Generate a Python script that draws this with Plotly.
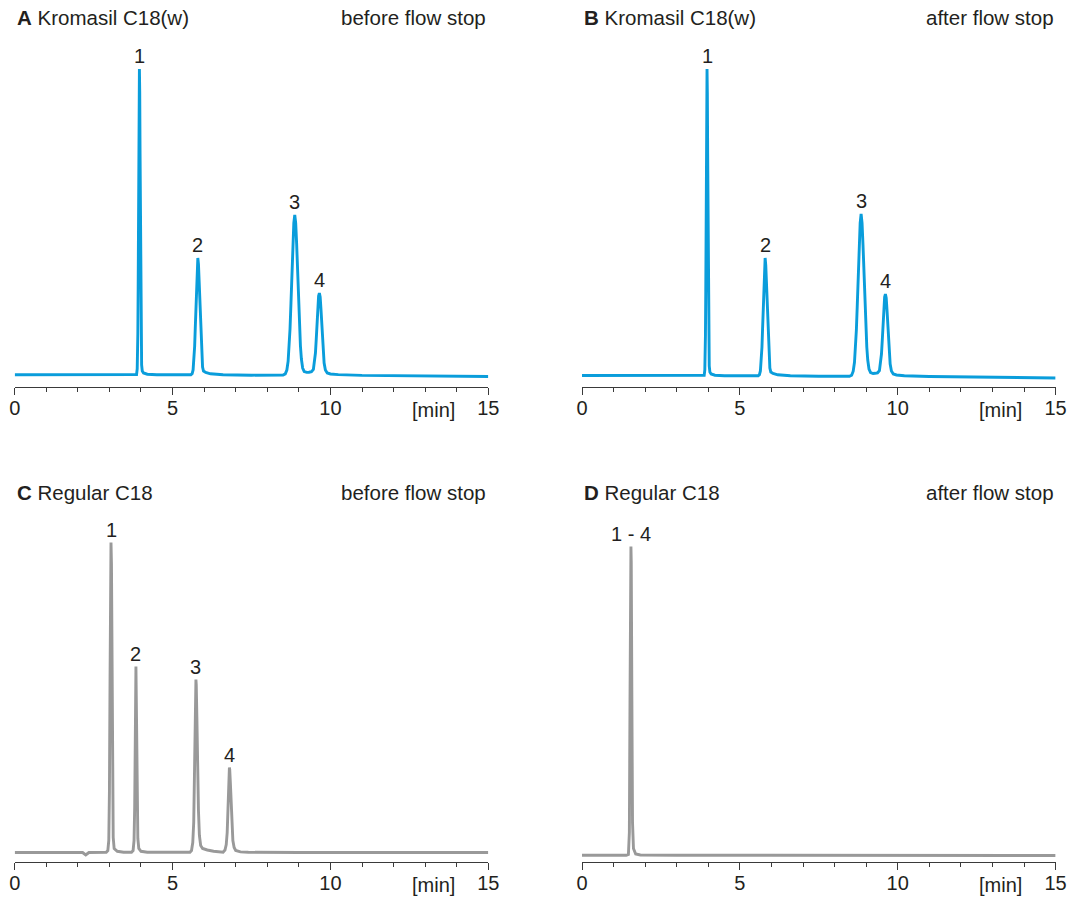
import plotly.graph_objects as go

# ---------------- data (time in min, detector signal in arbitrary units) ----------------
time_a = [0.0, 1.0, 2.0, 3.0, 3.70, 3.86, 3.88, 3.89, 3.90, 3.91, 3.92, 3.93, 3.94, 3.95, 3.96, 3.97, 3.98, 3.99,
          4.00, 4.01, 4.02, 4.04, 4.08, 4.20, 4.50,
          5.58, 5.62, 5.65, 5.68, 5.70, 5.72, 5.74, 5.76, 5.78, 5.80, 5.82, 5.84, 5.86, 5.88, 5.90, 5.92, 5.95, 5.98,
          6.05, 6.20, 6.40, 6.60, 7.5,
          8.50, 8.57, 8.62, 8.66, 8.69, 8.72, 8.75, 8.78, 8.81, 8.84, 8.87, 8.90, 8.93, 8.96, 8.99, 9.02, 9.05, 9.08,
          9.12, 9.17, 9.25, 9.32, 9.40, 9.46, 9.50, 9.525, 9.55, 9.575, 9.60, 9.625, 9.65, 9.675, 9.70, 9.725, 9.75,
          9.775, 9.80, 9.84, 9.90, 10.0, 10.25, 11.0, 12.0, 13.0, 14.0, 15.0]
signal_a = [0.3, 0.3, 0.2, 0.2, 0.2, 0.5, 6, 17, 41, 85, 149, 222, 282, 306, 283, 224, 152, 88,
            46, 22, 10, 4, 2, 0.8, 0.3,
            0.3, 1.3, 5.1, 15.8, 29, 48, 71, 94, 111, 117, 111, 95, 73, 50, 32, 19, 8, 4,
            2.5, 1.2, 0.5, 0.2, -0.2,
            0.0, 1.1, 5, 13.9, 26.6, 46, 72, 102, 131, 152, 160, 152, 131, 102, 72, 48, 29, 16,
            7, 3.5, 2.6, 2.8, 3.3, 5.5, 13, 22, 35.5, 51.5, 67, 79, 82, 78, 66, 50.5, 34.5,
            21, 12, 5, 2, 1, 0.4, -0.4, -0.7, -1.0, -1.3, -1.5]

time_b = [0.0, 1.0, 2.0, 3.0, 3.71, 3.87, 3.89, 3.90, 3.91, 3.92, 3.93, 3.94, 3.95, 3.96, 3.97, 3.98, 3.99, 4.00,
          4.01, 4.02, 4.03, 4.05, 4.09, 4.21, 4.51,
          5.58, 5.62, 5.65, 5.68, 5.70, 5.72, 5.74, 5.76, 5.78, 5.80, 5.82, 5.84, 5.86, 5.88, 5.90, 5.92, 5.95, 5.98,
          6.05, 6.20, 6.40, 6.60, 7.5,
          8.47, 8.54, 8.59, 8.63, 8.66, 8.69, 8.72, 8.75, 8.78, 8.81, 8.84, 8.87, 8.90, 8.93, 8.96, 8.99, 9.02, 9.05,
          9.09, 9.14, 9.22, 9.28, 9.36, 9.42, 9.46, 9.485, 9.51, 9.535, 9.56, 9.585, 9.61, 9.635, 9.66, 9.685, 9.71,
          9.735, 9.76, 9.80, 9.86, 9.96, 10.21, 11.0, 12.0, 13.0, 14.0, 15.0]
signal_b = [-0.5, -0.6, -0.7, -0.8, -0.8, -0.3, 5, 16, 40, 84, 148, 221, 281, 306, 282, 223, 151, 87,
            45, 21, 9, 3, 1, -0.2, -0.7,
            -0.8, 0.3, 4.1, 14.8, 28, 47, 70, 93, 110, 117, 110, 94, 72, 49, 31, 18, 7, 3,
            1.5, 0.2, -0.5, -0.8, -1.2,
            -1.3, -0.2, 3.8, 12.7, 25.5, 45, 71, 101, 130, 152, 161, 152, 130, 101, 71, 47, 28, 15,
            6, 2.4, 1.5, 1.7, 2.2, 4.4, 11.9, 21, 34.5, 50.5, 66, 78, 81, 77, 65, 49.5, 33.5,
            20, 11, 4, 1, 0, -0.7, -1.5, -2.0, -2.4, -2.8, -3.0]

time_c = [0.0, 1.0, 2.0, 2.15, 2.25, 2.30, 2.35, 2.90, 2.95, 2.98, 3.00, 3.02, 3.035, 3.05, 3.065, 3.08, 3.10, 3.12,
          3.15, 3.25, 3.45, 3.70, 3.75, 3.78, 3.80, 3.82, 3.84, 3.86, 3.88, 3.90, 3.93, 4.00, 4.20,
          5.55, 5.60, 5.64, 5.67, 5.69, 5.71, 5.73, 5.74, 5.75, 5.77, 5.79, 5.82, 5.85, 5.89, 5.95, 6.10, 6.30, 6.50,
          6.60, 6.66, 6.70, 6.73, 6.75, 6.77, 6.79, 6.80, 6.81, 6.83, 6.85, 6.88, 6.91, 6.95, 7.00, 7.15, 7.40,
          9.0, 11.0, 13.0, 15.0]
signal_c = [0.0, 0.0, 0.0, 0.0, -2.5, -1.0, 0.0, 0.3, 2, 12, 60, 175, 285, 310, 288, 180, 65, 15,
            4, 1.2, 0.3, 0.3, 2, 12, 45, 120, 186, 130, 50, 14, 4, 1.2, 0.3,
            0.3, 2, 10, 30, 62, 110, 160, 173, 168, 135, 92, 42, 17, 7, 4, 2.5, 1.3, 0.5,
            0.3, 2.5, 8, 20, 36, 58, 79, 85, 83, 70, 52, 28, 12, 5, 2, 0.6, 0.2,
            0.0, 0.0, 0.0, 0.0]

time_d = [0.0, 1.0, 1.40, 1.47, 1.50, 1.52, 1.54, 1.55, 1.56, 1.58, 1.60, 1.63, 1.70, 1.85, 3.0, 6.0, 10.0, 15.0]
signal_d = [-2.8, -2.8, -2.8, -2.0, 20, 150, 290, 306, 290, 150, 30, 4, -1.5, -2.5, -2.8, -2.8, -2.9, -3.0]

peak_labels_ab = ["1", "2", "3", "4"]
peaks_a_t = [3.95, 5.80, 8.87, 9.65]
peaks_a_h = [306, 117, 160, 82]
peaks_b_t = [3.96, 5.80, 8.84, 9.61]
peaks_b_h = [306, 117, 161, 81]
peak_labels_c = ["1", "2", "3", "4"]
peaks_c_t = [3.05, 3.84, 5.74, 6.80]
peaks_c_h = [310, 186, 173, 85]
peak_labels_d = ["1 - 4"]
peaks_d_t = [1.55]
peaks_d_h = [306]

panel_letters = ["A", "B", "C", "D"]
panel_columns = ["Kromasil C18(w)", "Kromasil C18(w)", "Regular C18", "Regular C18"]
panel_conditions = ["before flow stop", "after flow stop", "before flow stop", "after flow stop"]
tick_values = [0, 5, 10, 15]
axis_unit = "[min]"

# ---------------- styling / layout ----------------
W, H = 1076, 898
BLUE = "#0a9ddb"
GRAY = "#999999"
TXT = "#231f20"
FONT = "Liberation Sans, Arial, Helvetica, sans-serif"
FS = 20
FS_TITLE = 20.5


def px_x(p):
    return p / W


def px_y(p):
    return 1 - p / H


col_px = [(14.7, 488.3), (582.0, 1055.6)]
row_px = [(40.0, 387.3), (515.0, 862.3)]
row_base = [375.0, 852.5]

fig = go.Figure()

series = [(time_a, signal_a, BLUE), (time_b, signal_b, BLUE), (time_c, signal_c, GRAY), (time_d, signal_d, GRAY)]
labels = [(peak_labels_ab, peaks_a_t, peaks_a_h), (peak_labels_ab, peaks_b_t, peaks_b_h),
          (peak_labels_c, peaks_c_t, peaks_c_h), (peak_labels_d, peaks_d_t, peaks_d_h)]

annotations = []
for i in range(4):
    r, c = divmod(i, 2)
    suffix = "" if i == 0 else str(i + 1)
    xa, ya = "x" + suffix, "y" + suffix
    t, s, col = series[i]
    fig.add_trace(go.Scatter(x=t, y=s, mode="lines", line=dict(color=col, width=2.9),
                             xaxis=xa, yaxis=ya, showlegend=False, hoverinfo="skip"))
    x0, x1 = col_px[c]
    top, bot = row_px[r]
    base = row_base[r]
    fig.layout["xaxis" + suffix] = dict(
        domain=[px_x(x0), px_x(x1)], range=[0, 15], anchor=ya, automargin=False,
        showline=True, linecolor="#3a3a3a", linewidth=1.2,
        ticks="outside", ticklen=7, tickwidth=1.2, tickcolor="#3a3a3a",
        tickvals=tick_values, ticktext=[str(v) for v in tick_values],
        tickfont=dict(family=FONT, size=FS, color=TXT), ticklabelstandoff=-4,
        minor=dict(ticks="outside", dtick=1, ticklen=4, tickwidth=1.1, tickcolor="#3a3a3a", showgrid=False),
        showgrid=False, zeroline=False, fixedrange=True,
    )
    fig.layout["yaxis" + suffix] = dict(
        domain=[px_y(bot), px_y(top)], range=[-(bot - base), base - top], anchor=xa,
        visible=False, fixedrange=True, automargin=False,
    )
    # titles
    ty = px_y(18 if r == 0 else 492)
    annotations.append(dict(xref="paper", yref="paper", x=px_x(x0), y=ty, xanchor="left", yanchor="middle",
                            text=f"<b>{panel_letters[i]}</b> {panel_columns[i]}", showarrow=False,
                            font=dict(family=FONT, size=FS_TITLE, color=TXT)))
    annotations.append(dict(xref="paper", yref="paper", x=px_x(x1), y=ty, xanchor="right", yanchor="middle",
                            text=panel_conditions[i], showarrow=False,
                            font=dict(family=FONT, size=FS_TITLE, color=TXT)))
    # unit label
    annotations.append(dict(xref=xa, yref="paper", x=13.25, y=px_y(bot + 23), xanchor="center", yanchor="middle",
                            text=axis_unit, showarrow=False, font=dict(family=FONT, size=FS, color=TXT)))
    # peak labels
    lt, tt, hh = labels[i]
    for name, pt, ph in zip(lt, tt, hh):
        annotations.append(dict(xref=xa, yref=ya, x=pt, y=ph, xanchor="center", yanchor="middle",
                                yshift=13, text=name, showarrow=False,
                                font=dict(family=FONT, size=FS, color=TXT)))

fig.update_layout(width=W, height=H, autosize=False, margin=dict(l=0, r=0, t=0, b=0, pad=0),
                  paper_bgcolor="white", plot_bgcolor="white", annotations=annotations)

fig.write_html("out.html",
               config={"displayModeBar": False, "responsive": False},
               post_script="document.documentElement.style.overflow='hidden';"
                           "document.body.style.margin='0';document.body.style.overflow='hidden';")
